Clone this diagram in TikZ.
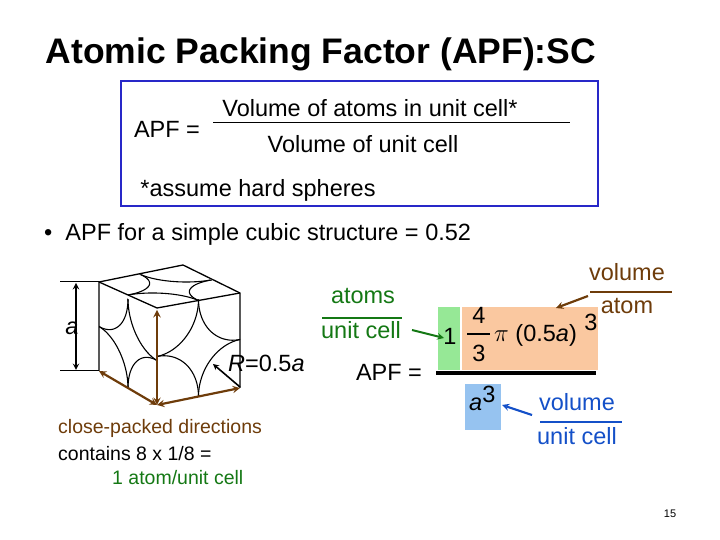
\documentclass[tikz,border=0pt]{standalone}
\usepackage{fontspec}
\setmainfont{Liberation Sans}
\begin{document}
\begin{tikzpicture}[x=1pt,y=1pt,
  txt/.style={inner sep=0pt,anchor=base,font=\fontsize{23.5}{26}\selectfont},
  sm/.style={inner sep=0pt,anchor=base west,font=\fontsize{19.5}{22}\selectfont},
  edge/.style={line width=1.3pt},
  arc/.style={line width=1.1pt},
  brarrow/.style={line width=2.2pt,draw={rgb,255:red,110;green,60;blue,10},<->,>=stealth},
]
\definecolor{dgreen}{RGB}{20,120,20}
\definecolor{brn}{RGB}{110,60,10}
\definecolor{blu}{RGB}{20,80,200}
\definecolor{lgreen}{RGB}{150,232,150}
\definecolor{lorange}{RGB}{250,200,160}
\definecolor{lblue}{RGB}{150,195,240}
\definecolor{boxblue}{RGB}{40,40,200}
\useasboundingbox (0,0) rectangle (720,540);
% title
\node[inner sep=0pt,anchor=base,font=\bfseries\fontsize{35.5}{38}\selectfont] (title) at (321,476) {Atomic Packing Factor (APF):SC};
% box
\draw[boxblue,line width=2.5pt] (121,459) rectangle (598,334);
\node[txt] (apf1) at (167,402) {APF =};
\node[txt] (num) at (370,423) {Volume of atoms in unit cell*};
\draw[line width=1pt] (213,417) -- (570,417);
\node[txt] (den) at (363,387) {Volume of unit cell};
\node[txt] (hard) at (258,343) {*assume hard spheres};
\node[txt,anchor=base west] (bul) at (44,299) {\textbullet\ \ APF for a simple cubic structure = 0.52};
% cube faces with sphere arcs
\begin{scope}[shift={(99pt,169pt)},x={(58pt,-34pt)},y={(0pt,89pt)}]
  \clip (0,0) -- (1,0) -- (1,1) -- (0,1) -- cycle;
  \foreach \px/\py in {0/0,1/0,0/1,1/1} \draw[arc] plot[domain=0:360,samples=90,smooth] ({\px+0.5*cos(\x)},{\py+0.5*sin(\x)});
\end{scope}
\begin{scope}[shift={(157pt,135pt)},x={(83pt,17pt)},y={(0pt,97pt)}]
  \clip (0,0) -- (1,0) -- (1,1) -- (0,1) -- cycle;
  \foreach \px/\py in {0/0,1/0,0/1,1/1} \draw[arc] plot[domain=0:360,samples=90,smooth] ({\px+0.5*cos(\x)},{\py+0.5*sin(\x)});
\end{scope}
\begin{scope}[shift={(157pt,232pt)},x={(83pt,15pt)},y={(-58pt,26pt)}]
  \clip (0,0) -- (1,0) -- (1,1) -- (0,1) -- cycle;
  \foreach \px/\py in {0/0,1/0,0/1,1/1} \draw[arc] plot[domain=0:360,samples=90,smooth] ({\px+0.5*cos(\x)},{\py+0.5*sin(\x)});
\end{scope}
\coordinate (TL) at (99,258); \coordinate (TB) at (183,275); \coordinate (TR) at (240,247);
\coordinate (TF) at (157,232); \coordinate (BL) at (99,169); \coordinate (BF) at (157,135);
\coordinate (BR) at (240,152);
\draw[edge,line join=round] (BL) -- (TL) -- (TB) -- (TR) -- (BR);
\draw[edge] (TL) -- (TF) -- (TR);
% dimension a
\coordinate (d1) at (60,258); \coordinate (d2) at (60,169);
\draw[line width=1pt] (d1) -- (TL); \draw[line width=1pt] (d2) -- (BL);
\draw[line width=1.8pt,<->,>=stealth] (76,257) -- (76,170);
\node[txt,font=\itshape\fontsize{23.5}{26}\selectfont] (alab) at (72,205) {a};
% brown arrows
\draw[brarrow] (BL) -- (BF); \draw[brarrow] (BF) -- (BR); \draw[brarrow] (BF) -- (157,230);
% R arrow
\coordinate (Rt) at (240,153); \coordinate (Rh) at (213,176);
\draw[line width=1.6pt,->,>=stealth] (Rt) -- (Rh);
\node[txt,anchor=base west] (Rlab) at (228,168) {\textit{R}=0.5\textit{a}};
% bottom texts
\node[sm,text=brn] (cp) at (58,106) {close-packed directions};
\node[sm] (c8) at (58,79) {contains 8 x 1/8 =};
\node[sm,text=dgreen] (one) at (112,55) {1 atom/unit cell};
% atoms/unit cell
\node[txt,text=dgreen] (at) at (363,236) {atoms};
\draw[dgreen,line width=1.6pt] (322,222) -- (402,222);
\node[txt,text=dgreen] (uc) at (361,201) {unit cell};
\node[txt] (apf2) at (389,159) {APF =};
% boxes
\fill[lgreen] (438,233) rectangle (460,170);
\fill[lorange] (462,233) rectangle (598,170);
\fill[lblue] (465,156) rectangle (501,110);
\draw[line width=3.5pt] (436,167) -- (596,167);
\node[txt] (n1) at (450,195) {1};
\node[txt] (n4) at (479,216) {4};
\draw[line width=1.3pt] (467,206) -- (490,206);
\node[txt] (n3) at (479,178) {3};
\node[txt,anchor=base west] (pi) at (494,198) {$\pi$ (0.5\textit{a})};
\node[txt] (e3) at (591,209) {3};
\node[txt,anchor=base west] (a3) at (469,129) {\textit{a}\raisebox{8pt}{3}};
\draw[dgreen,line width=2pt,->,>=stealth] (412,210) -- (444,202);
% brown volume/atom
\node[txt,text=brn] (va) at (627,259) {volume};
\draw[brn,line width=2pt] (590,248) -- (672,248);
\node[txt,text=brn] (aa) at (627,226) {atom};
\draw[brn,line width=2.2pt,->,>=stealth] (588,244) -- (556,232);
% blue volume/unit cell
\node[txt,text=blu] (vu) at (577,129) {volume};
\draw[blu,line width=2pt] (540,118) -- (622,118);
\node[txt,text=blu] (uu) at (577,95) {unit cell};
\draw[blu,line width=2.2pt,->,>=stealth] (532,125) -- (502,135);
\node[inner sep=0pt,anchor=base,font=\fontsize{11}{12}\selectfont] (pg) at (670,22) {15};
\end{tikzpicture}
\end{document}
